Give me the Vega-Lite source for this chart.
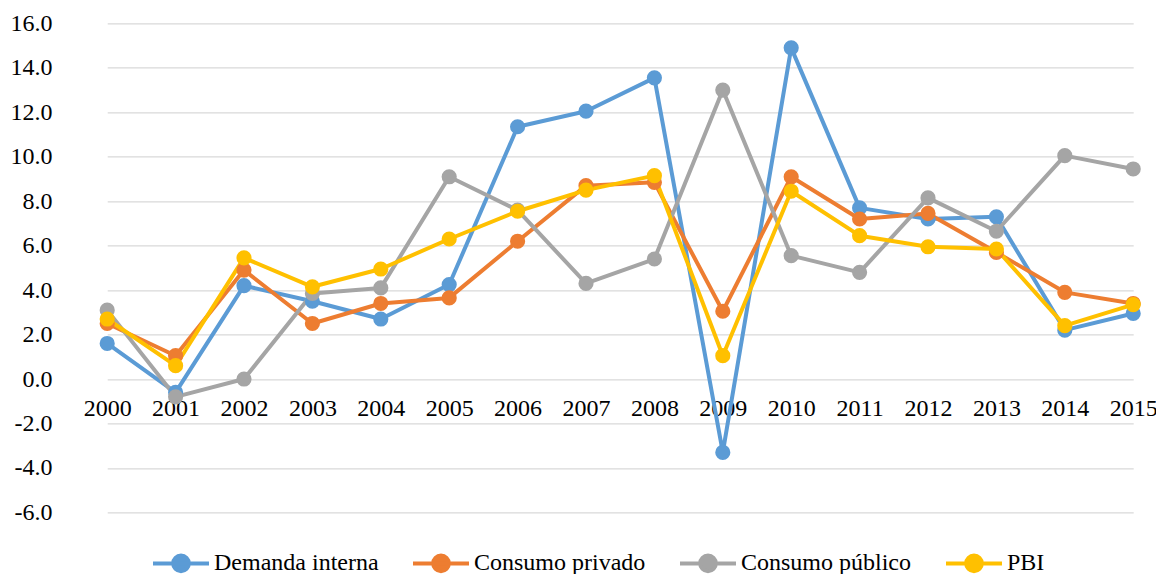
{
  "$schema": "https://vega.github.io/schema/vega-lite/v6.json",
  "width": 1083,
  "height": 489,
  "autosize": {"type": "none"},
  "padding": {"left": 73, "top": 23.4, "right": 0, "bottom": 61.6},
  "background": "white",
  "config": {"view": {"stroke": null}, "font": "Liberation Serif, Times New Roman, serif"},
  "data": {
    "values": [
      {"year": "2000", "serie": "Demanda interna", "value": 1.6},
      {"year": "2001", "serie": "Demanda interna", "value": -0.6},
      {"year": "2002", "serie": "Demanda interna", "value": 4.2},
      {"year": "2003", "serie": "Demanda interna", "value": 3.5},
      {"year": "2004", "serie": "Demanda interna", "value": 2.7},
      {"year": "2005", "serie": "Demanda interna", "value": 4.25},
      {"year": "2006", "serie": "Demanda interna", "value": 11.35},
      {"year": "2007", "serie": "Demanda interna", "value": 12.05},
      {"year": "2008", "serie": "Demanda interna", "value": 13.55},
      {"year": "2009", "serie": "Demanda interna", "value": -3.3},
      {"year": "2010", "serie": "Demanda interna", "value": 14.9},
      {"year": "2011", "serie": "Demanda interna", "value": 7.7},
      {"year": "2012", "serie": "Demanda interna", "value": 7.2},
      {"year": "2013", "serie": "Demanda interna", "value": 7.3},
      {"year": "2014", "serie": "Demanda interna", "value": 2.2},
      {"year": "2015", "serie": "Demanda interna", "value": 2.95},
      {"year": "2000", "serie": "Consumo privado", "value": 2.5},
      {"year": "2001", "serie": "Consumo privado", "value": 1.05},
      {"year": "2002", "serie": "Consumo privado", "value": 4.9},
      {"year": "2003", "serie": "Consumo privado", "value": 2.5},
      {"year": "2004", "serie": "Consumo privado", "value": 3.4},
      {"year": "2005", "serie": "Consumo privado", "value": 3.65},
      {"year": "2006", "serie": "Consumo privado", "value": 6.2},
      {"year": "2007", "serie": "Consumo privado", "value": 8.7},
      {"year": "2008", "serie": "Consumo privado", "value": 8.85},
      {"year": "2009", "serie": "Consumo privado", "value": 3.05},
      {"year": "2010", "serie": "Consumo privado", "value": 9.1},
      {"year": "2011", "serie": "Consumo privado", "value": 7.2},
      {"year": "2012", "serie": "Consumo privado", "value": 7.45},
      {"year": "2013", "serie": "Consumo privado", "value": 5.7},
      {"year": "2014", "serie": "Consumo privado", "value": 3.9},
      {"year": "2015", "serie": "Consumo privado", "value": 3.4},
      {"year": "2000", "serie": "Consumo público", "value": 3.1},
      {"year": "2001", "serie": "Consumo público", "value": -0.8},
      {"year": "2002", "serie": "Consumo público", "value": 0.0},
      {"year": "2003", "serie": "Consumo público", "value": 3.85},
      {"year": "2004", "serie": "Consumo público", "value": 4.1},
      {"year": "2005", "serie": "Consumo público", "value": 9.1},
      {"year": "2006", "serie": "Consumo público", "value": 7.6},
      {"year": "2007", "serie": "Consumo público", "value": 4.3},
      {"year": "2008", "serie": "Consumo público", "value": 5.4},
      {"year": "2009", "serie": "Consumo público", "value": 13.0},
      {"year": "2010", "serie": "Consumo público", "value": 5.55},
      {"year": "2011", "serie": "Consumo público", "value": 4.8},
      {"year": "2012", "serie": "Consumo público", "value": 8.15},
      {"year": "2013", "serie": "Consumo público", "value": 6.65},
      {"year": "2014", "serie": "Consumo público", "value": 10.05},
      {"year": "2015", "serie": "Consumo público", "value": 9.45},
      {"year": "2000", "serie": "PBI", "value": 2.7},
      {"year": "2001", "serie": "PBI", "value": 0.6},
      {"year": "2002", "serie": "PBI", "value": 5.45},
      {"year": "2003", "serie": "PBI", "value": 4.15},
      {"year": "2004", "serie": "PBI", "value": 4.95},
      {"year": "2005", "serie": "PBI", "value": 6.3},
      {"year": "2006", "serie": "PBI", "value": 7.55},
      {"year": "2007", "serie": "PBI", "value": 8.5},
      {"year": "2008", "serie": "PBI", "value": 9.15},
      {"year": "2009", "serie": "PBI", "value": 1.05},
      {"year": "2010", "serie": "PBI", "value": 8.45},
      {"year": "2011", "serie": "PBI", "value": 6.45},
      {"year": "2012", "serie": "PBI", "value": 5.95},
      {"year": "2013", "serie": "PBI", "value": 5.85},
      {"year": "2014", "serie": "PBI", "value": 2.4},
      {"year": "2015", "serie": "PBI", "value": 3.35}
    ]
  },
  "mark": {
    "type": "line",
    "strokeWidth": 4,
    "strokeJoin": "round",
    "point": {"filled": true, "size": 230, "opacity": 1}
  },
  "encoding": {
    "x": {
      "field": "year",
      "type": "ordinal",
      "scale": {"range": [34.2, 1060.2], "padding": 0},
      "axis": {
        "title": null,
        "labelAngle": 0,
        "domain": false,
        "ticks": false,
        "grid": false,
        "offset": -133.6,
        "labelFont": "Liberation Serif, Times New Roman, serif",
        "labelFontSize": 24,
        "labelColor": "#000000",
        "labelBaseline": "alphabetic",
        "labelPadding": 37
      }
    },
    "y": {
      "field": "value",
      "type": "quantitative",
      "scale": {"domain": [-6, 16], "nice": false, "zero": false},
      "axis": {
        "title": null,
        "values": [-6, -4, -2, 0, 2, 4, 6, 8, 10, 12, 14, 16],
        "domain": false,
        "ticks": false,
        "labelPadding": 21,
        "gridColor": "#D9D9D9",
        "gridWidth": 1.4,
        "labelFont": "Liberation Serif, Times New Roman, serif",
        "labelFontSize": 24,
        "labelColor": "#000000",
        "labelExpr": "replace(format(datum.value, '.1f'), '\u2212', '-')"
      }
    },
    "color": {
      "field": "serie",
      "type": "nominal",
      "scale": {
        "domain": ["Demanda interna", "Consumo privado", "Consumo público", "PBI"],
        "range": ["#5B9BD5", "#ED7D31", "#A5A5A5", "#FFC000"]
      },
      "legend": {
        "title": null,
        "orient": "none",
        "legendX": 78,
        "legendY": 510,
        "direction": "horizontal",
        "gridAlign": "none",
        "symbolType": "M-1,0L1,0M-0.28,0A0.28,0.28,0,1,1,0.28,0A0.28,0.28,0,1,1,-0.28,0Z",
        "symbolSize": 3136,
        "symbolStrokeWidth": 4,
        "labelFont": "Liberation Serif, Times New Roman, serif",
        "labelFontSize": 24,
        "labelColor": "#000000",
        "labelOffset": 3,
        "labelLimit": 400,
        "columnPadding": 26,
        "encode": {
          "symbols": {
            "update": {
              "fill": {"scale": "color", "field": "value"},
              "opacity": {"value": 1}
            }
          }
        }
      }
    }
  }
}
